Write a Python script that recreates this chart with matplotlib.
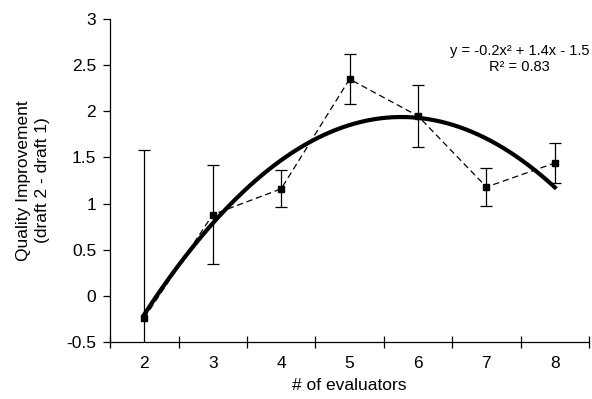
import numpy as np
import matplotlib.pyplot as plt

plt.rcParams['font.family'] = ['Liberation Sans', 'DejaVu Sans']

# data
evaluators = [2, 3, 4, 5, 6, 7, 8]
improvement = [-0.24, 0.88, 1.16, 2.35, 1.95, 1.18, 1.44]
err = [1.82, 0.54, 0.20, 0.27, 0.34, 0.21, 0.22]

fig = plt.figure(figsize=(5.92, 3.99), dpi=100)
ax = fig.add_axes([0.186, 0.143, 0.809, 0.809])

x = np.array(evaluators)
y = np.array(improvement)

# quadratic trendline (Excel style, fitted on category index)
idx = np.arange(1, len(x) + 1)
coef = np.polyfit(idx, y, 2)
xs = np.linspace(1, len(x), 200)
ax.plot(xs + 1, np.polyval(coef, xs), color='black', lw=3, zorder=2)

ax.errorbar(x, y, yerr=err, fmt='s--', color='black', ms=4.5, lw=0.9,
            elinewidth=0.9, capsize=4, capthick=0.9, dashes=(5, 3), zorder=3)

ax.text(1.0, 0.83, 'y = -0.2x² + 1.4x - 1.5\nR² = 0.83',
        transform=ax.transAxes, ha='right', va='bottom', fontsize=10.5,
        multialignment='center', linespacing=1.2)

ax.set_xlim(1.5, 8.5)
ax.set_ylim(-0.5, 3)
ax.set_yticks(np.arange(-0.5, 3.01, 0.5))
ax.set_yticklabels(['-0.5', '0', '0.5', '1', '1.5', '2', '2.5', '3'])
ax.set_xticks(np.arange(1.5, 8.6, 1))
ax.set_xticklabels([])
ax.set_xticks(x, minor=True)
ax.set_xticklabels([str(v) for v in evaluators], minor=True)
ax.tick_params(axis='x', which='major', direction='inout', length=8, width=0.9)
ax.tick_params(axis='x', which='minor', length=0, pad=10, labelsize=12.5)
ax.tick_params(axis='y', direction='out', length=5, width=0.9, labelsize=12.5, pad=5)

for s in ['top', 'right']:
    ax.spines[s].set_visible(False)
for s in ['left', 'bottom']:
    ax.spines[s].set_linewidth(0.9)

ax.set_xlabel('# of evaluators', fontsize=12.5, labelpad=5)
ax.set_ylabel('Quality Improvement\n(draft 2 - draft 1)', fontsize=12.5, labelpad=12,
              linespacing=1.3)

fig.savefig('out.png', dpi=100)
